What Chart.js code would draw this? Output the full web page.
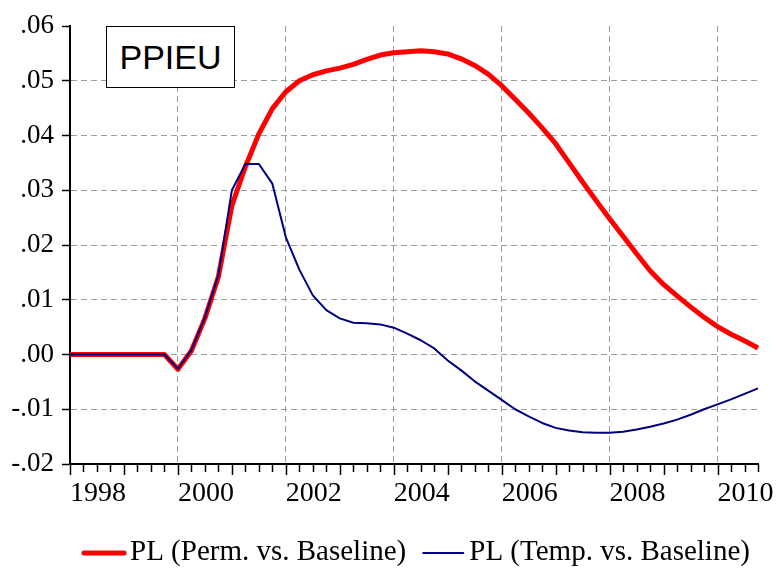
<!DOCTYPE html>
<html>
<head>
    <title>PPIEU</title>
    <script src="https://cdn.jsdelivr.net/npm/chart.js"></script>
    <style>
        body { margin: 0; overflow: hidden; background: #fff; }
        #wrap { position: relative; width: 776px; height: 569px; }
        #title-box {
            position: absolute; left: 106px; top: 26px; width: 127px; height: 60px;
            border: 1px solid #000; background: #fff;
            font-family: "Liberation Sans", Arial, sans-serif; font-size: 34px;
            line-height: 60px; text-align: center; color: #000;
        }
    </style>
</head>
<body>
    <div id="wrap">
        <canvas id="line-chart"></canvas>
        <div id="title-box">PPIEU</div>
    </div>

    <script>
        // quarterly periods 1998Q1 .. 2010Q4
        const quarters = [
            '1998Q1','1998Q2','1998Q3','1998Q4','1999Q1','1999Q2','1999Q3','1999Q4',
            '2000Q1','2000Q2','2000Q3','2000Q4','2001Q1','2001Q2','2001Q3','2001Q4',
            '2002Q1','2002Q2','2002Q3','2002Q4','2003Q1','2003Q2','2003Q3','2003Q4',
            '2004Q1','2004Q2','2004Q3','2004Q4','2005Q1','2005Q2','2005Q3','2005Q4',
            '2006Q1','2006Q2','2006Q3','2006Q4','2007Q1','2007Q2','2007Q3','2007Q4',
            '2008Q1','2008Q2','2008Q3','2008Q4','2009Q1','2009Q2','2009Q3','2009Q4',
            '2010Q1','2010Q2','2010Q3','2010Q4'
        ];
        const yearLabels = ['1998', '2000', '2002', '2004', '2006', '2008', '2010'];

        // PL (Perm. vs. Baseline)
        const permValues = [
            0, 0, 0, 0, 0, 0, 0, 0,
            -0.0027, 0.0007, 0.0066, 0.0142, 0.0272, 0.0343, 0.0403, 0.0449,
            0.0480, 0.0500, 0.0511, 0.0518, 0.0523, 0.0530, 0.0539, 0.0547,
            0.0551, 0.0553, 0.0555, 0.0553, 0.0549, 0.0540, 0.0528, 0.0512,
            0.0491, 0.0466, 0.0441, 0.0414, 0.0385, 0.0350, 0.0315, 0.0281,
            0.0248, 0.0216, 0.0184, 0.0153, 0.0128, 0.0107, 0.0087, 0.0068,
            0.0051, 0.0037, 0.0025, 0.0012
        ];

        // PL (Temp. vs. Baseline)
        const tempValues = [
            0, 0, 0, 0, 0, 0, 0, 0,
            -0.0026, 0.0008, 0.0068, 0.0145, 0.0300, 0.0348, 0.0348, 0.0312,
            0.0214, 0.0155, 0.0108, 0.0081, 0.0066, 0.0058, 0.0057, 0.0055,
            0.0049, 0.0038, 0.0026, 0.0011, -0.0011, -0.0029, -0.0049, -0.0066,
            -0.0083, -0.0100, -0.0113, -0.0125, -0.0134, -0.0139, -0.0142, -0.0143,
            -0.0143, -0.0141, -0.0137, -0.0132, -0.0126, -0.0119, -0.0110, -0.0100,
            -0.0091, -0.0082, -0.0072, -0.0062
        ];

        const yMin = -0.02;
        const yMax = 0.06;
        const gridGrey = '#9d9d9d';
        const serif = '"Liberation Serif", "Times New Roman", serif';

        // format .06 / -.01 like EViews
        function fmtTick(v) {
            return v.toFixed(2).replace('0.', '.');
        }

        // quarter tick marks below the date axis, longer at each year
        const quarterTicks = {
            id: 'quarterTicks',
            afterDraw(chart) {
                const x = chart.scales.x;
                const ctx = chart.ctx;
                const bottom = chart.chartArea.bottom;
                ctx.save();
                ctx.strokeStyle = '#000';
                ctx.lineWidth = 1.5;
                quarters.forEach((q, i) => {
                    const px = Math.round(x.getPixelForValue(i)) + 0.5;
                    const len = q.endsWith('Q1') ? 11 : 8;
                    ctx.beginPath();
                    ctx.moveTo(px, bottom);
                    ctx.lineTo(px, bottom + len);
                    ctx.stroke();
                });
                ctx.restore();
            }
        };

        // legend row under the chart, EViews style
        const bottomLegend = {
            id: 'bottomLegend',
            afterDraw(chart) {
                const ctx = chart.ctx;
                let x = 82;
                const lineY = 553;
                const textY = 560;
                ctx.save();
                ctx.font = '29px ' + serif;
                ctx.textBaseline = 'alphabetic';
                ctx.textAlign = 'left';
                chart.data.datasets.forEach((ds) => {
                    ctx.strokeStyle = ds.borderColor;
                    ctx.lineWidth = ds.borderWidth;
                    ctx.lineCap = 'round';
                    ctx.beginPath();
                    ctx.moveTo(x + 2, lineY);
                    ctx.lineTo(x + 42, lineY);
                    ctx.stroke();
                    x += 48;
                    ctx.fillStyle = '#000';
                    ctx.fillText(ds.label, x, textY);
                    x += ctx.measureText(ds.label).width + 15;
                });
                ctx.restore();
            }
        };

        Chart.defaults.color = '#000';
        Chart.defaults.font.family = serif;

        new Chart(document.getElementById('line-chart').getContext('2d'), {
            type: 'line',
            data: {
                labels: quarters,
                datasets: [
                    {
                        label: 'PL (Perm. vs. Baseline)',
                        data: permValues,
                        borderColor: '#ff0000',
                        borderWidth: 5,
                        pointRadius: 0,
                        tension: 0,
                        borderJoinStyle: 'round',
                        order: 1
                    },
                    {
                        label: 'PL (Temp. vs. Baseline)',
                        data: tempValues,
                        borderColor: '#000080',
                        borderWidth: 2,
                        pointRadius: 0,
                        tension: 0,
                        borderJoinStyle: 'round',
                        order: 0
                    }
                ]
            },
            options: {
                responsive: true,
                maintainAspectRatio: false,
                animation: false,
                layout: { padding: { left: 0, right: 18, top: 26, bottom: 41 } },
                plugins: {
                    tooltip: { enabled: false },
                    legend: { display: false }
                },
                scales: {
                    x: {
                        afterFit: (scale) => { scale.height = 64; },
                        grid: {
                            drawTicks: false,
                            lineWidth: 1,
                            color: (ctx) => (ctx.index > 0 && ctx.index % 8 === 0) ? gridGrey : 'rgba(0,0,0,0)'
                        },
                        border: { display: true, color: '#000', width: 2, dash: [6, 4] },
                        ticks: {
                            autoSkip: false,
                            maxRotation: 0,
                            align: 'start',
                            padding: 13,
                            font: { size: 28, family: serif },
                            callback: (val, idx) => {
                                const q = quarters[idx];
                                const yr = q.slice(0, 4);
                                return (q.endsWith('Q1') && yearLabels.includes(yr)) ? yr : '';
                            }
                        }
                    },
                    y: {
                        min: yMin,
                        max: yMax,
                        afterFit: (scale) => { scale.width = 70; },
                        grid: {
                            tickLength: 8,
                            tickColor: '#000',
                            tickWidth: 1.5,
                            lineWidth: 1,
                            color: (ctx) => {
                                const v = ctx.tick.value;
                                return (Math.abs(v - yMin) < 1e-9 || Math.abs(v - yMax) < 1e-9) ? 'rgba(0,0,0,0)' : gridGrey;
                            }
                        },
                        border: { display: true, color: '#000', width: 2, dash: [6, 4] },
                        ticks: {
                            stepSize: 0.01,
                            padding: 8,
                            font: { size: 27, family: serif },
                            callback: (v) => fmtTick(v)
                        }
                    }
                }
            },
            plugins: [quarterTicks, bottomLegend]
        });
    </script>
</body>
</html>
